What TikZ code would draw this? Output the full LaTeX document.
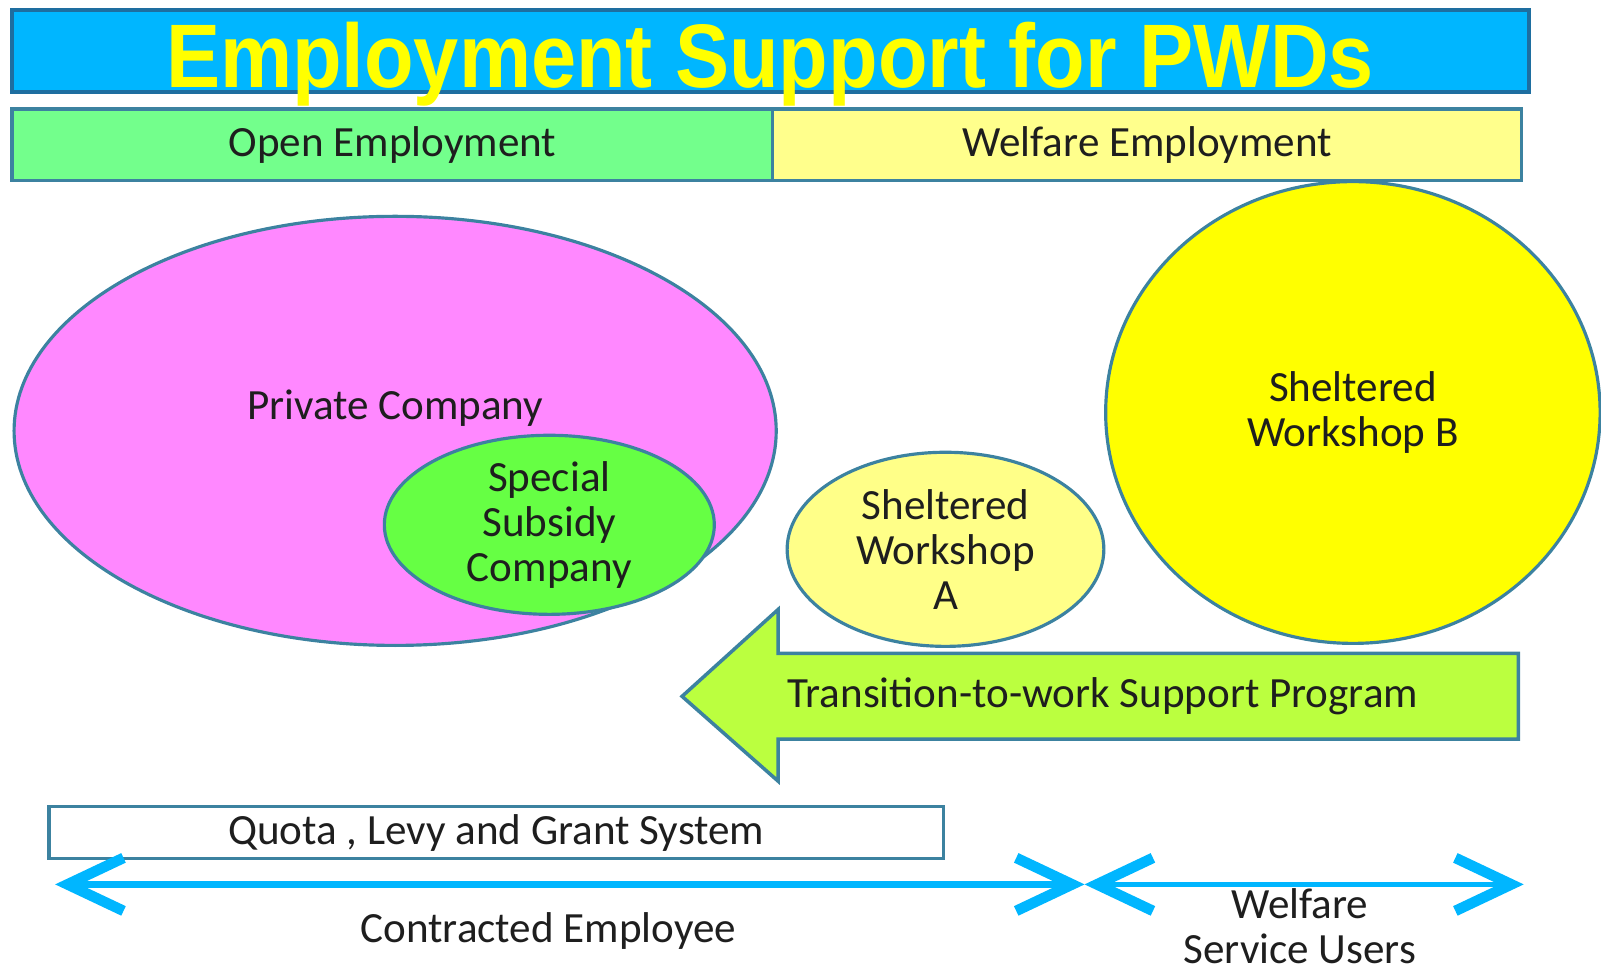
\documentclass[tikz,border=0pt]{standalone}
\usepackage{fontspec}
\setmainfont{Carlito}
\newfontfamily\titlefont{Liberation Sans}
\usetikzlibrary{shapes.geometric,arrows.meta}
\definecolor{titleblue}{RGB}{0,182,255}
\definecolor{titleborder}{RGB}{30,110,160}
\definecolor{titleyellow}{RGB}{255,255,0}
\definecolor{greenbar}{RGB}{115,255,140}
\definecolor{yellowbar}{RGB}{255,255,140}
\definecolor{edgeblue}{RGB}{60,130,160}
\definecolor{pinkfill}{RGB}{255,136,255}
\definecolor{greenfill}{RGB}{102,255,68}
\definecolor{palefill}{RGB}{255,255,136}
\definecolor{arrowgreen}{RGB}{187,255,63}
\definecolor{cyanline}{RGB}{0,182,255}
\definecolor{textdark}{RGB}{30,30,30}
\begin{document}
\begin{tikzpicture}[x=0.01cm,y=-0.01cm,scale=1.021,
  every node/.style={text=textdark,font=\fontsize{12}{12.5}\selectfont,inner sep=0pt,transform shape},
  barbox/.style={draw=edgeblue,line width=1pt,rectangle},
  blob/.style={draw=edgeblue,line width=0.9pt,ellipse,align=center},
  cyanarrow/.style={draw=cyanline,line width=2pt,{Straight Barb[length=0.56cm,width=0.53cm,line width=3pt]}-{Straight Barb[length=0.56cm,width=0.53cm,line width=3pt]}}
]
\useasboundingbox (0,0) rectangle (1568,952);
\clip (0,0) rectangle (1568,952);
% title
\node[draw=titleborder,line width=1.2pt,fill=titleblue,minimum width=14.85cm,minimum height=0.80cm] (title) at (754.5,50) {};
\node[anchor=base,text=titleyellow] (titletext) at (754,86) {\resizebox{11.82cm}{0.64cm}{\titlefont\bfseries Employment Support for PWDs}};
% bars
\node[barbox,fill=greenbar,minimum width=7.45cm,minimum height=0.70cm] (open) at (384.5,142) {Open Employment};
\node[barbox,fill=yellowbar,minimum width=7.33cm,minimum height=0.70cm] (welfare) at (1123.5,142) {Welfare Employment};
% ellipses
\node[blob,fill=pinkfill,minimum width=7.46cm,minimum height=4.20cm] (pc) at (387,422) {};
\node (pclabel) at (387,400) {Private Company};
\node[blob,fill=greenfill,minimum width=3.23cm,minimum height=1.65cm] (ssc) at (538,514) {Special\\Subsidy\\Company};
\node[blob,fill=palefill,minimum width=3.10cm,minimum height=1.90cm] (swa) at (926,538) {Sheltered\\Workshop\\A};
\node[blob,fill=titleyellow,minimum width=4.84cm,minimum height=4.52cm] (swb) at (1325,404) {Sheltered\\Workshop B};
% big arrow
\draw[draw=edgeblue,line width=1pt,fill=arrowgreen] (668,682) -- (762,597) -- (762,640) -- (1487,640) -- (1487,724) -- (762,724) -- (762,765) -- cycle;
\node (ttw) at (1080,682) {Transition-to-work Support Program};
% quota box
\node[barbox,fill=white,minimum width=8.76cm,minimum height=0.51cm] (quota) at (486,815.5) {Quota , Levy and Grant System};
% bottom arrows
\coordinate (cL) at (54,866);
\coordinate (cM) at (1062,866);
\coordinate (cR) at (1492,866);
\draw[cyanarrow] (cM) -- (cL);
\draw[cyanarrow,line width=1.5pt] (cM) -- (cR);
\node (contracted) at (537,912) {Contracted Employee};
\node[align=center] (wsu) at (1273,907) {Welfare\\Service Users};
\end{tikzpicture}
\end{document}
